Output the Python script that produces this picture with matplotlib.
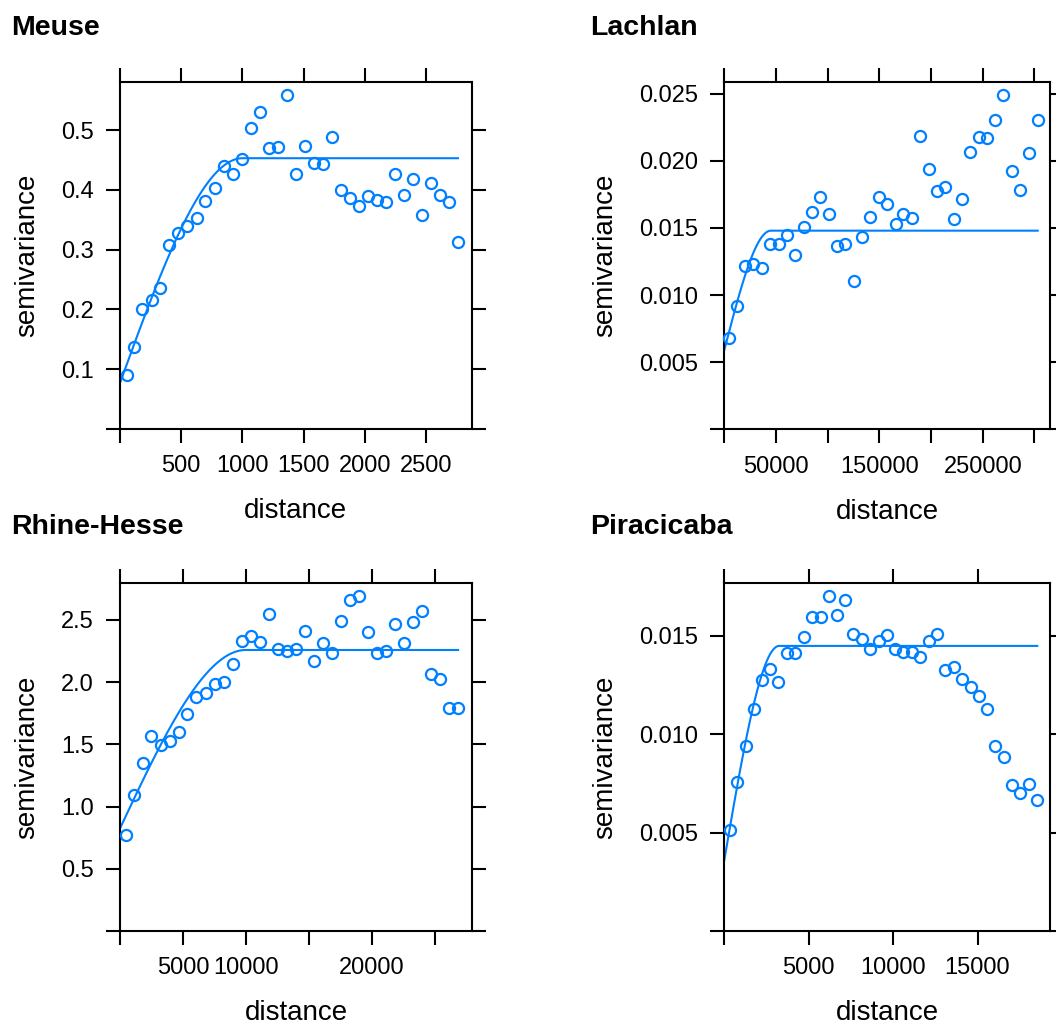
import numpy as np
import matplotlib
matplotlib.use("Agg")
import matplotlib.pyplot as plt

plt.rcParams['font.family'] = ['Liberation Sans', 'DejaVu Sans']

BLUE = '#0080ff'

# --- sample variograms (distance, semivariance) ---
meuse_dist = [60, 114, 182, 259, 330, 403, 477, 550, 626, 697, 773, 847, 921, 994,
              1068, 1144, 1215, 1293, 1364, 1440, 1509, 1582, 1659, 1732, 1806, 1879,
              1950, 2026, 2100, 2176, 2247, 2323, 2397, 2467, 2541, 2614, 2688, 2761]
meuse_gamma = [0.091, 0.137, 0.200, 0.216, 0.236, 0.307, 0.328, 0.340, 0.353, 0.381,
               0.403, 0.440, 0.426, 0.452, 0.503, 0.531, 0.470, 0.472, 0.559, 0.427,
               0.473, 0.445, 0.443, 0.489, 0.399, 0.387, 0.373, 0.390, 0.383, 0.380,
               0.427, 0.391, 0.418, 0.358, 0.411, 0.391, 0.380, 0.313]

lachlan_dist = [4545, 11990, 20310, 28050, 36170, 44200, 52600, 60340, 68660, 77070,
                85100, 92840, 100960, 108990, 117010, 125140, 133160, 141190, 149310,
                157630, 165750, 173100, 181520, 189550, 197670, 205690, 213720, 221840,
                230170, 237900, 246020, 253760, 261790, 269810, 278230, 286250, 294370,
                303070]
lachlan_gamma = [0.00677, 0.00920, 0.01220, 0.01232, 0.01200, 0.01379, 0.01379, 0.01451,
                 0.01302, 0.01505, 0.01619, 0.01733, 0.01602, 0.01369, 0.01379, 0.01106,
                 0.01436, 0.01585, 0.01733, 0.01676, 0.01530, 0.01604, 0.01572, 0.02184,
                 0.01939, 0.01773, 0.01805, 0.01567, 0.01719, 0.02063, 0.02177, 0.02167,
                 0.02303, 0.02492, 0.01924, 0.01780, 0.02061, 0.02306]

rhine_dist = [477, 1088, 1802, 2490, 3233, 3949, 4664, 5353, 6068, 6810, 7526, 8242,
              8957, 9673, 10390, 11100, 11820, 12530, 13280, 13990, 14680, 15400, 16110,
              16830, 17550, 18260, 18980, 19690, 20410, 21150, 21860, 22580, 23290,
              24010, 24720, 25440, 26130, 26870]
rhine_gamma = [0.774, 1.093, 1.348, 1.570, 1.498, 1.525, 1.600, 1.742, 1.881, 1.910,
               1.988, 2.002, 2.144, 2.334, 2.371, 2.321, 2.548, 2.267, 2.248, 2.264,
               2.409, 2.173, 2.318, 2.237, 2.495, 2.664, 2.690, 2.406, 2.237, 2.251,
               2.465, 2.315, 2.487, 2.570, 2.066, 2.028, 1.795, 1.795]

pira_dist = [355, 770, 1268, 1742, 2233, 2707, 3199, 3697, 4188, 4704, 5195, 5711, 6185,
             6676, 7168, 7642, 8157, 8649, 9147, 9656, 10130, 10600, 11100, 11610, 12110,
             12600, 13090, 13590, 14100, 14600, 15070, 15560, 16050, 16550, 17040, 17540,
             18030, 18540]
pira_gamma = [0.00513, 0.00755, 0.00942, 0.01130, 0.01274, 0.01331, 0.01263, 0.01413,
              0.01411, 0.01495, 0.01597, 0.01594, 0.01701, 0.01604, 0.01680, 0.01511,
              0.01484, 0.01431, 0.01473, 0.01502, 0.01433, 0.01418, 0.01419, 0.01392,
              0.01473, 0.01511, 0.01328, 0.01341, 0.01280, 0.01240, 0.01192, 0.01130,
              0.00940, 0.00882, 0.00744, 0.00701, 0.00749, 0.00664]

# --- fitted spherical models: nugget, partial sill, range ---
meuse_model = [0.077, 0.376, 1000]
lachlan_model = [0.0059, 0.0089, 45000]
rhine_model = [0.825, 1.434, 10000]
pira_model = [0.0036, 0.01088, 3250]

# --- axis setup ---
meuse_xticks = [0, 500, 1000, 1500, 2000, 2500]
meuse_xlabels = ['', '500', '1000', '1500', '2000', '2500']
meuse_yticks = [0, 0.1, 0.2, 0.3, 0.4, 0.5]
meuse_ylabels = ['', '0.1', '0.2', '0.3', '0.4', '0.5']

lachlan_xticks = [0, 50000, 100000, 150000, 200000, 250000, 300000]
lachlan_xlabels = ['', '50000', '', '150000', '', '250000', '']
lachlan_yticks = [0, 0.005, 0.010, 0.015, 0.020, 0.025]
lachlan_ylabels = ['', '0.005', '0.010', '0.015', '0.020', '0.025']

rhine_xticks = [0, 5000, 10000, 15000, 20000, 25000]
rhine_xlabels = ['', '5000', '10000', '', '20000', '']
rhine_yticks = [0, 0.5, 1.0, 1.5, 2.0, 2.5]
rhine_ylabels = ['', '0.5', '1.0', '1.5', '2.0', '2.5']

pira_xticks = [0, 5000, 10000, 15000]
pira_xlabels = ['', '5000', '10000', '15000']
pira_yticks = [0, 0.005, 0.010, 0.015]
pira_ylabels = ['', '0.005', '0.010', '0.015']


def spherical(h, model):
    nug, psill, rng = model
    r = np.minimum(h / rng, 1.0)
    return nug + psill * (1.5 * r - 0.5 * r ** 3)


def panel(fig, rect, title, title_xy, dist, gamma, model, xlim, ylim,
          xticks, xlabels, yticks, ylabels):
    ax = fig.add_axes(rect)
    ax.plot(dist, gamma, 'o', mfc='none', mec=BLUE, ms=8, mew=1.6,
            clip_on=False, zorder=3)
    h = np.linspace(0, dist[-1], 400)
    ax.plot(h, spherical(h, model), color=BLUE, lw=1.5)
    ax.set_xlim(*xlim)
    ax.set_ylim(*ylim)
    ax.set_xticks(xticks)
    ax.set_xticklabels(xlabels)
    ax.set_yticks(yticks)
    ax.set_yticklabels(ylabels)
    ax.tick_params(direction='out', length=10, width=1.5, labelsize=17,
                   top=True, right=True, pad=9)
    for s in ax.spines.values():
        s.set_linewidth(1.5)
    ax.set_xlabel('distance', fontsize=20, labelpad=15)
    ax.set_ylabel('semivariance', fontsize=20, labelpad=15)
    fig.text(title_xy[0], title_xy[1], title, fontsize=20.5, fontweight='bold',
             va='baseline', ha='left')
    return ax


W, H = 1056, 1025
fig = plt.figure(figsize=(W / 100, H / 100), dpi=100)

def rect(l, t, r, b):
    return [l / W, 1 - b / H, (r - l) / W, (b - t) / H]

panel(fig, rect(120, 81.7, 471.7, 429), 'Meuse', (11 / W, 1 - 35 / H),
      meuse_dist, meuse_gamma, meuse_model, (0, 2873), (0, 0.581),
      meuse_xticks, meuse_xlabels, meuse_yticks, meuse_ylabels)
panel(fig, rect(724.3, 81.7, 1050, 429.3), 'Lachlan', (590 / W, 1 - 35 / H),
      lachlan_dist, lachlan_gamma, lachlan_model, (0, 315000), (0, 0.0259),
      lachlan_xticks, lachlan_xlabels, lachlan_yticks, lachlan_ylabels)
panel(fig, rect(120, 583.3, 472.3, 931), 'Rhine-Hesse', (11 / W, 1 - 534 / H),
      rhine_dist, rhine_gamma, rhine_model, (0, 28000), (0, 2.795),
      rhine_xticks, rhine_xlabels, rhine_yticks, rhine_ylabels)
panel(fig, rect(724.3, 583.3, 1050, 931), 'Piracicaba', (590 / W, 1 - 534 / H),
      pira_dist, pira_gamma, pira_model, (0, 19295), (0, 0.01766),
      pira_xticks, pira_xlabels, pira_yticks, pira_ylabels)

fig.savefig('out.png', dpi=100)
